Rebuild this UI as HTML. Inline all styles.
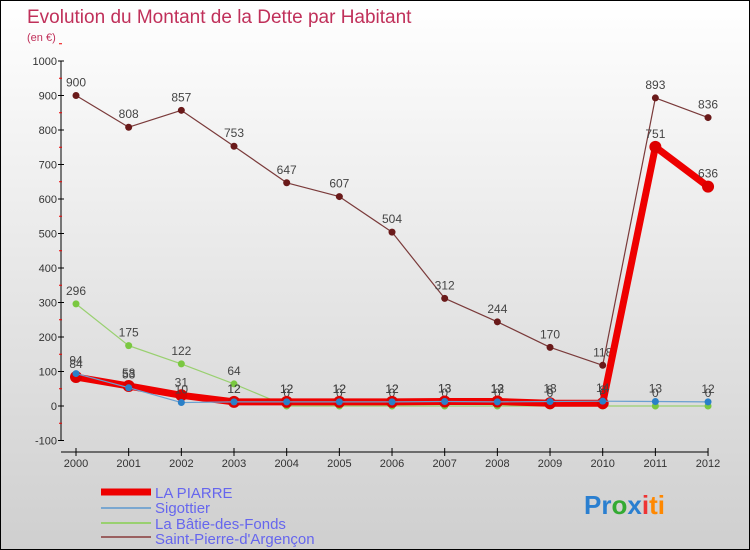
<!DOCTYPE html>
<html><head><meta charset="utf-8"><style>
body{margin:0}
#c{width:748px;height:548px;border:1px solid #000;background:linear-gradient(#fff,#cfcfcf);position:relative;font-family:"Liberation Sans",sans-serif;overflow:hidden}
</style></head><body>
<div id="c">
<svg id="s" width="748" height="548" style="position:absolute;left:0;top:0">
<text x="26" y="22" font-size="19" fill="#c0305a">Evolution du Montant de la Dette par Habitant</text>
<text x="26" y="40" font-size="11" fill="#c0305a">(en €)</text>
<g id="ax"></g><g id="ser"></g>
<g font-size="15" fill="#6666ee">
<line x1="100" y1="491" x2="150" y2="491" stroke="#e00" stroke-width="7"/><text x="154" y="497">LA PIARRE</text>
<line x1="100" y1="507" x2="150" y2="507" stroke="#7aa7d0" stroke-width="2"/><text x="154" y="512">Sigottier</text>
<line x1="100" y1="522" x2="150" y2="522" stroke="#99d070" stroke-width="2"/><text x="154" y="528">La Bâtie-des-Fonds</text>
<line x1="100" y1="536" x2="150" y2="536" stroke="#9a6060" stroke-width="2"/><text x="154" y="543">Saint-Pierre-d'Argençon</text>
</g>
<text x="583" y="513" font-size="26" font-weight="bold"><tspan fill="#2a7fd0">Pr</tspan><tspan fill="#3a3">o</tspan><tspan fill="#2a7fd0">x</tspan><tspan fill="#e33">i</tspan><tspan fill="#f80">ti</tspan></text>
</svg></div>
<script>
const years=[2000,2001,2002,2003,2004,2005,2006,2007,2008,2009,2010,2011,2012];
const ticks=[-100,0,100,200,300,400,500,600,700,800,900,1000];
const piarre=[84,58,31,12,12,12,12,13,13,8,8,751,636];
const sigottier=[94,53,10,12,12,12,12,13,12,13,14,13,12];
const batie=[296,175,122,64,0,0,0,0,0,0,0,0,0];
const stpierre=[900,808,857,753,647,607,504,312,244,170,118,893,836];
const X=i=>75+i*52.67, Y=v=>405-v*0.345;
const NS="http://www.w3.org/2000/svg";
function mk(p,t,a){const e=document.createElementNS(NS,t);for(const k in a)e.setAttribute(k,a[k]);p.appendChild(e);return e;}
const ax=document.getElementById('ax'),ser=document.getElementById('ser');
let e=mk(ax,'line',{x1:60,y1:60,x2:60,y2:440,stroke:'#000'});


e=mk(ax,'line',{x1:60,y1:451,x2:707,y2:451,stroke:'#000'});


ticks.forEach(t=>{mk(ax,'line',{x1:57,y1:Y(t),x2:63,y2:Y(t),stroke:'#000'});
mk(ax,'line',{x1:58,y1:Y(t+50),x2:61,y2:Y(t+50),stroke:'#e00'});
const l=mk(ax,'text',{x:56,y:Y(t)+4,'font-size':11,'text-anchor':'end',fill:'#333'});l.textContent=t;

});
years.forEach((y,i)=>{mk(ax,'line',{x1:X(i),y1:447,x2:X(i),y2:455,stroke:'#000'});
const l=mk(ax,'text',{x:X(i),y:466,'font-size':11,'text-anchor':'middle',fill:'#333'});l.textContent=y;

});
function series(d,col,dot,w,r,name){const g=mk(ser,'g',{});


mk(g,'polyline',{points:d.map((v,i)=>X(i)+','+Y(v)).join(' '),fill:'none',stroke:col,'stroke-width':w,'stroke-linejoin':'round'});
d.forEach((v,i)=>{mk(g,'circle',{cx:X(i),cy:Y(v),r:r,fill:dot});
const t=mk(g,'text',{x:X(i),y:Y(v)-9,'font-size':12,'text-anchor':'middle',fill:'#444'});t.textContent=v;});}
series(stpierre,'#7a3a3a','#6a1a1a',1.2,3.5,'series-saint-pierre');
series(batie,'#99d070','#7ac840',1.2,3.5,'series-batie');
series(piarre,'#ee0000','#dd0000',7,6,'series-la-piarre');
series(sigottier,'#6aa0d0','#2a80c8',1.2,3.5,'series-sigottier');
</script>
</body></html>
